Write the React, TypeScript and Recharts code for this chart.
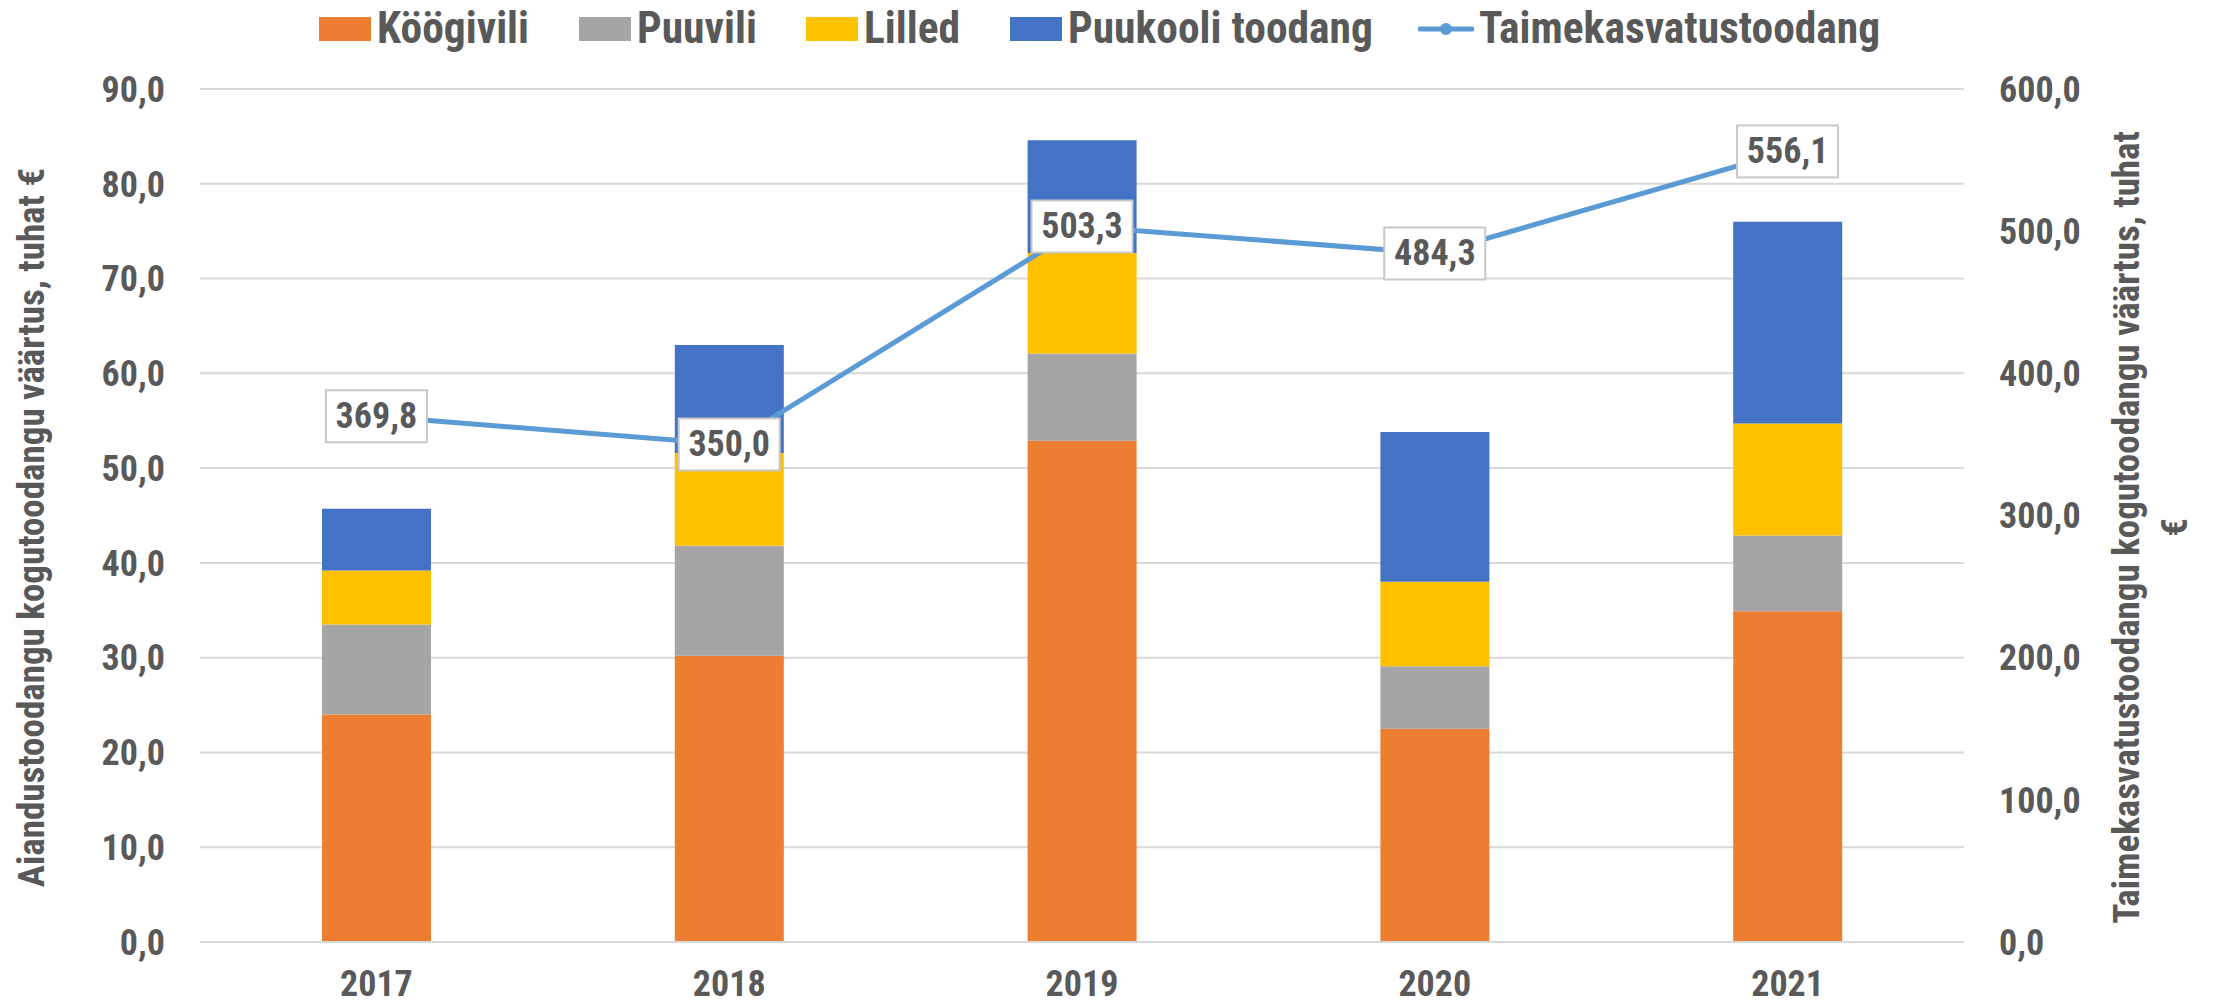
import { ComposedChart, Bar, Line, XAxis, YAxis, CartesianGrid, LabelList } from 'recharts';

const years = ['2017', '2018', '2019', '2020', '2021'];
const koogivili = [24.0, 30.2, 52.9, 22.5, 34.9];
const puuvili = [9.5, 11.6, 9.2, 6.6, 8.0];
const lilled = [5.7, 9.8, 10.6, 8.9, 11.8];
const puukool = [6.5, 11.4, 11.9, 15.8, 21.3];
const taimekasvatus = [369.8, 350.0, 503.3, 484.3, 556.1];

const leftTicks = [0, 10, 20, 30, 40, 50, 60, 70, 80, 90];
const rightTicks = [0, 100, 200, 300, 400, 500, 600];

const data = years.map((year, i) => ({
  year,
  koogivili: koogivili[i],
  puuvili: puuvili[i],
  lilled: lilled[i],
  puukool: puukool[i],
  taime: taimekasvatus[i],
}));

const FONT = "'Roboto Condensed', 'Liberation Sans Narrow', 'Arial Narrow', sans-serif";
const TEXT = '#595959';

const fmt = (v: number) => v.toFixed(1).replace('.', ',');

const legendItems = [
  { name: 'Köögivili', color: '#ED7D31', kind: 'box', left: 319 },
  { name: 'Puuvili', color: '#A5A5A5', kind: 'box', left: 579 },
  { name: 'Lilled', color: '#FFC000', kind: 'box', left: 806 },
  { name: 'Puukooli toodang', color: '#4472C4', kind: 'box', left: 1010 },
  { name: 'Taimekasvatustoodang', color: '#5B9BD5', kind: 'line', left: 1418 },
];

function ChartLegend() {
  return (
    <div style={{ position: 'absolute', top: 0, left: 0, fontFamily: FONT, fontWeight: 700, fontSize: 43.5, color: TEXT }}>
      {legendItems.map((item) => (
        <div
          key={item.name}
          style={{
            position: 'absolute',
            top: 29,
            left: item.left,
            height: 0,
            display: 'flex',
            alignItems: 'center',
            whiteSpace: 'nowrap',
            lineHeight: 1,
          }}
        >
          {item.kind === 'box' ? (
            <span style={{ width: 52, height: 24, background: item.color, marginRight: 6, flex: 'none' }} />
          ) : (
            <svg width={56} height={24} style={{ marginRight: 5, flex: 'none' }}>
              <line x1={2} y1={12} x2={54} y2={12} stroke={item.color} strokeWidth={5} strokeLinecap="round" />
              <circle cx={28} cy={12} r={6} fill={item.color} />
            </svg>
          )}
          <span>{item.name}</span>
        </div>
      ))}
    </div>
  );
}

function LeftTitle(props: any) {
  const { x, y, height } = props.viewBox;
  return (
    <text
      transform={`translate(${x + 31},${y + height / 2 + 12}) rotate(-90)`}
      textAnchor="middle"
      dominantBaseline="central"
      fontFamily={FONT}
      fontWeight={700}
      fontSize={37}
      fill={TEXT}
    >
      Aiandustoodangu kogutoodangu väärtus, tuhat €
    </text>
  );
}

function RightTitle(props: any) {
  const { x, y, height } = props.viewBox;
  const cy = y + height / 2 + 12;
  return (
    <g fontFamily={FONT} fontWeight={700} fontSize={37} fill={TEXT}>
      <text transform={`translate(${x + 162},${cy}) rotate(-90)`} textAnchor="middle" dominantBaseline="central">
        Taimekasvatustoodangu kogutoodangu väärtus, tuhat
      </text>
      <text transform={`translate(${x + 210},${cy}) rotate(-90)`} textAnchor="middle" dominantBaseline="central">
        €
      </text>
    </g>
  );
}

function BoxLabel(props: any) {
  const { x, y, value } = props;
  const w = 101;
  const h = 52;
  return (
    <g>
      <rect x={x - w / 2} y={y - h / 2} width={w} height={h} fill="#FFFFFF" stroke="#C8C8C8" strokeWidth={2} />
      <text
        x={x}
        y={y}
        textAnchor="middle"
        dominantBaseline="central"
        fontFamily={FONT}
        fontWeight={700}
        fontSize={36}
        fill={TEXT}
      >
        {fmt(value)}
      </text>
    </g>
  );
}

const tickStyle = { fontFamily: FONT, fontWeight: 700, fontSize: 36, fill: TEXT };

export default function App() {
  return (
    <div style={{ position: 'relative', width: 2215, height: 1007, background: '#FFFFFF' }}>
      <style>{'body { margin: 0; }'}</style>
      <ChartLegend />
      <ComposedChart
        width={2215}
        height={1007}
        data={data}
        margin={{ top: 89, right: 0, bottom: 0, left: 0 }}
      >
        <CartesianGrid yAxisId="left" vertical={false} stroke="#D9D9D9" strokeWidth={2} />
        <XAxis
          dataKey="year"
          height={65}
          axisLine={{ stroke: '#D9D9D9', strokeWidth: 2 }}
          tickLine={false}
          tickMargin={22}
          tick={tickStyle}
        />
        <YAxis
          yAxisId="left"
          width={200}
          domain={[0, 90]}
          ticks={leftTicks}
          tickFormatter={fmt}
          axisLine={false}
          tickLine={false}
          tickMargin={29}
          tick={tickStyle}
          label={<LeftTitle />}
        />
        <YAxis
          yAxisId="right"
          orientation="right"
          width={251}
          domain={[0, 600]}
          ticks={rightTicks}
          tickFormatter={fmt}
          axisLine={false}
          tickLine={false}
          tickMargin={29}
          tick={tickStyle}
          label={<RightTitle />}
        />
        <Bar yAxisId="left" dataKey="koogivili" stackId="a" fill="#ED7D31" barSize={109} isAnimationActive={false} />
        <Bar yAxisId="left" dataKey="puuvili" stackId="a" fill="#A5A5A5" barSize={109} isAnimationActive={false} />
        <Bar yAxisId="left" dataKey="lilled" stackId="a" fill="#FFC000" barSize={109} isAnimationActive={false} />
        <Bar yAxisId="left" dataKey="puukool" stackId="a" fill="#4472C4" barSize={109} isAnimationActive={false} />
        <Line
          yAxisId="right"
          dataKey="taime"
          stroke="#5B9BD5"
          strokeWidth={5}
          dot={false}
          activeDot={false}
          isAnimationActive={false}
        >
          <LabelList dataKey="taime" content={<BoxLabel />} />
        </Line>
      </ComposedChart>
    </div>
  );
}
